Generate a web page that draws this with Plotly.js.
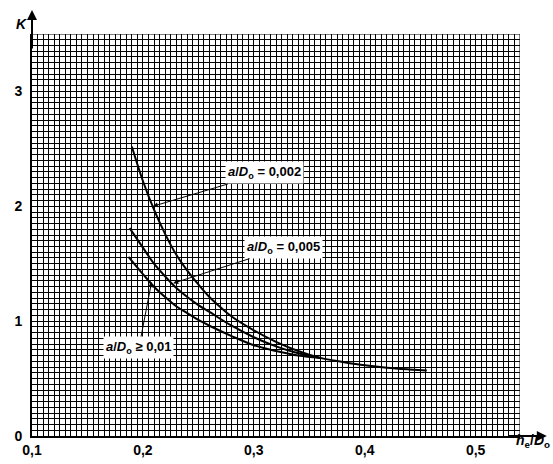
<!DOCTYPE html>
<html>
<head>
<meta charset="utf-8">
<script src="https://cdn.plot.ly/plotly-3.0.1.min.js"></script>
<style>
  body { margin: 0; background: #fff; }
  #graphique { width: 553px; height: 464px; }
</style>
</head>
<body>
<div id="graphique"></div>
<script>
var x002 = [0.19, 0.20, 0.21, 0.22, 0.23, 0.24, 0.25, 0.26, 0.27, 0.28, 0.30, 0.32, 0.34, 0.36, 0.38, 0.40, 0.42, 0.44, 0.456];
var k002 = [2.52, 2.22, 1.97, 1.76, 1.58, 1.44, 1.32, 1.21, 1.12, 1.04, 0.92, 0.82, 0.74, 0.68, 0.645, 0.615, 0.595, 0.58, 0.57];

var x005 = [0.188, 0.20, 0.21, 0.22, 0.23, 0.24, 0.25, 0.26, 0.28, 0.30, 0.32, 0.34, 0.36];
var k005 = [1.81, 1.64, 1.50, 1.39, 1.29, 1.21, 1.14, 1.08, 0.96, 0.86, 0.78, 0.72, 0.68];

var x01 = [0.187, 0.20, 0.21, 0.22, 0.23, 0.24, 0.25, 0.26, 0.28, 0.30, 0.32, 0.34, 0.36];
var k01 = [1.56, 1.41, 1.30, 1.21, 1.13, 1.07, 1.01, 0.96, 0.87, 0.79, 0.74, 0.70, 0.68];

var xTicks = [0.1, 0.2, 0.3, 0.4, 0.5];
var yTicks = [0, 1, 2, 3];

var police = 'Liberation Sans, Arial, sans-serif';

function courbe(x, y, nom) {
    return {
        x: x,
        y: y,
        name: nom,
        mode: 'lines',
        line: { color: '#000', width: 2, shape: 'spline', smoothing: 1 },
        hoverinfo: 'skip'
    };
}

// etiquette avec fleche vers la courbe
function etiquette(texte, x, y, ax, ay) {
    return {
        text: texte,
        x: x, y: y, xref: 'x', yref: 'y',
        ax: ax, ay: ay, axref: 'x', ayref: 'y',
        showarrow: true, arrowhead: 2, arrowsize: 1, arrowwidth: 1,
        arrowcolor: '#000',
        bgcolor: '#fff',
        borderpad: 2,
        font: { family: police, size: 13, color: '#000', weight: 'bold' }
    };
}

var layout = {
    width: 553,
    height: 464,
    showlegend: false,
    separators: ', ',
    margin: { l: 32, r: 33, t: 34, b: 28 },
    plot_bgcolor: '#fff',
    paper_bgcolor: '#fff',
    xaxis: {
        range: [0.1, 0.54],
        tickvals: xTicks,
        tickformat: '.1f',
        ticks: '',
        showline: true, linecolor: '#000', linewidth: 2,
        showgrid: true, gridcolor: '#000', gridwidth: 1,
        zeroline: false,
        minor: { dtick: 0.005, tick0: 0.1, showgrid: true, gridcolor: '#000', gridwidth: 1 },
        tickfont: { family: police, size: 14, color: '#000', weight: 'bold' },
        fixedrange: true
    },
    yaxis: {
        range: [0, 3.5],
        tickvals: yTicks,
        ticks: '',
        ticklabelstandoff: 5,
        showline: true, linecolor: '#000', linewidth: 2,
        showgrid: true, gridcolor: '#000', gridwidth: 1,
        zeroline: false,
        minor: { dtick: 0.05, tick0: 0, showgrid: true, gridcolor: '#000', gridwidth: 1 },
        tickfont: { family: police, size: 14, color: '#000', weight: 'bold' },
        fixedrange: true
    },
    shapes: [
        { type: 'line', xref: 'x', yref: 'y', x0: 0.54, x1: 0.54, y0: 0, y1: 3.5, line: { color: '#000', width: 1 } },
        { type: 'line', xref: 'x', yref: 'y', x0: 0.1, x1: 0.54, y0: 3.5, y1: 3.5, line: { color: '#000', width: 1 } }
    ],
    annotations: [
        etiquette('<i>a</i>/<i>D</i><sub>o</sub> = 0,002', 0.209, 2.0, 0.310, 2.29),
        etiquette('<i>a</i>/<i>D</i><sub>o</sub> = 0,005', 0.2273, 1.33, 0.327, 1.64),
        etiquette('<i>a</i>/<i>D</i><sub>o</sub> \u2265 0,01', 0.2078, 1.34, 0.1964, 0.77),
        // fleches des axes
        { x: 1.055, y: 0, xref: 'paper', yref: 'paper', ax: -40, ay: 0, text: '',
          showarrow: true, arrowhead: 2, arrowsize: 1, arrowwidth: 2, arrowcolor: '#000' },
        { x: 0, y: 1.06, xref: 'paper', yref: 'paper', ax: 0, ay: 40, text: '',
          showarrow: true, arrowhead: 2, arrowsize: 1, arrowwidth: 2, arrowcolor: '#000' },
        // titres des axes
        { x: -0.006, y: 1.05, xref: 'paper', yref: 'paper', xanchor: 'right', showarrow: false, text: '<i>K</i>',
          font: { family: police, size: 14, color: '#000', weight: 'bold' } },
        { x: 1.065, y: -0.04, xref: 'paper', yref: 'paper', xanchor: 'right', showarrow: false,
          text: '<i>h</i><sub>e</sub>/<i>D</i><sub>o</sub>',
          font: { family: police, size: 14, color: '#000', weight: 'bold' } }
    ]
};

Plotly.newPlot('graphique', [
    courbe(x002, k002, 'a/Do = 0,002'),
    courbe(x005, k005, 'a/Do = 0,005'),
    courbe(x01, k01, 'a/Do >= 0,01')
], layout, { staticPlot: true });
</script>
</body>
</html>
